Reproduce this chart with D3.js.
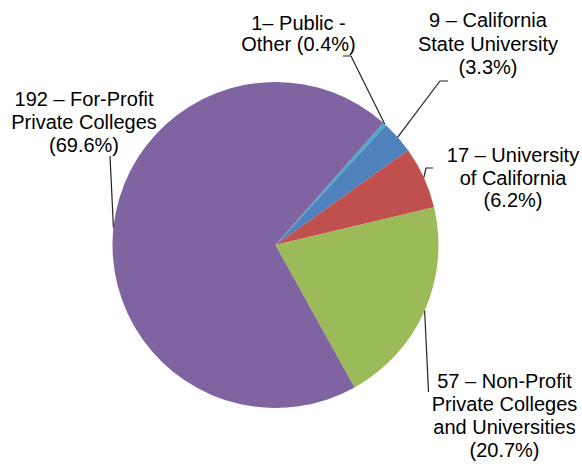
<!DOCTYPE html>
<meta charset="utf-8">
<head>
<style>
body { margin: 0; background: #fff; }
svg { display: block; }
.label text {
  font-family: "Liberation Sans", Arial, sans-serif;
  font-size: 20px;
  fill: #000;
}
.leader {
  fill: none;
  stroke: #222;
  stroke-width: 1.2;
}
</style>
</head>
<body>
<svg width="582" height="464"></svg>
<script src="https://cdn.jsdelivr.net/npm/d3@7"></script>
<script>

// slices, clockwise from the top-right
var categories = ["Public - Other", "California State University", "University of California",
                  "Non-Profit Private Colleges and Universities", "For-Profit Private Colleges"];
var counts = [1, 9, 17, 57, 192];
var colors = ["#4BACC6", "#4F81BD", "#C0504D", "#9BBB59", "#8064A2"];

// label text, {n} = count, {p} = share
var labelLines = [
  ["{n}\u2013 Public -", "Other ({p})"],
  ["{n} \u2013 California", "State University", "({p})"],
  ["{n} \u2013 University", "of California", "({p})"],
  ["{n} \u2013 Non-Profit", "Private Colleges", "and Universities", "({p})"],
  ["{n} \u2013 For-Profit", "Private Colleges", "({p})"]
];

// where the labels sit and how the leader lines bend
var layout = [
  {x: 298.5, y: 29.5, lh: 21.5, bend: [[351, 56], [343, 56]]},
  {x: 488,   y: 27,   lh: 23.5, bend: [[440, 81], [448, 81]]},
  {x: 513,   y: 162,  lh: 22.5, bend: [[426, 168], [433, 168]]},
  {x: 504.5, y: 388,  lh: 23,   bend: [[428.5, 392]]},
  {x: 84,    y: 106,  lh: 23,   bend: [[110, 156]]}
];

var svg = d3.select("svg"),
    cx = 275.5,
    cy = 245,
    radius = 163;

var total = d3.sum(counts);
var start = 41.4 * Math.PI / 180;

var pie = d3.pie()
    .sort(null)
    .startAngle(start)
    .endAngle(start + 2 * Math.PI);

var arcs = pie(counts);

var arc = d3.arc().innerRadius(0).outerRadius(radius);

var g = svg.append("g").attr("transform", "translate(" + cx + "," + cy + ")");

g.selectAll("path")
  .data(arcs)
  .enter().append("path")
    .attr("d", arc)
    .attr("fill", function(d, i) { return colors[i]; })
    .append("title").text(function(d, i) { return categories[i] + ": " + counts[i]; });

// leader lines from the rim at each slice's mid angle
var line = d3.line();
svg.selectAll(".leader")
  .data(arcs)
  .enter().append("path")
    .attr("class", "leader")
    .attr("d", function(d, i) {
      var a = (d.startAngle + d.endAngle) / 2;
      var p = [cx + radius * Math.sin(a), cy - radius * Math.cos(a)];
      return line([p].concat(layout[i].bend));
    });

var lab = svg.selectAll(".label")
  .data(arcs)
  .enter().append("g")
    .attr("class", "label");

lab.append("text")
    .attr("text-anchor", "middle")
    .each(function(d, i) {
      var t = d3.select(this);
      var pct = (counts[i] / total * 100).toFixed(1) + "%";
      labelLines[i].forEach(function(s, k) {
        t.append("tspan")
          .attr("x", layout[i].x)
          .attr("y", layout[i].y + k * layout[i].lh)
          .text(s.replace("{n}", counts[i]).replace("{p}", pct));
      });
    });

</script>
</body>
